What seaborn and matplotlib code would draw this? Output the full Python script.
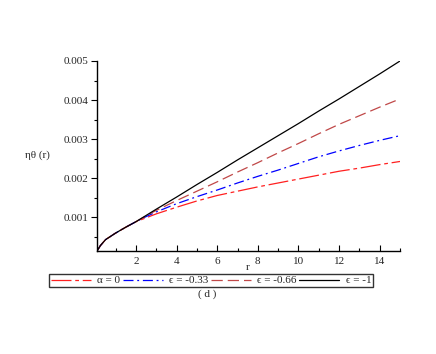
import matplotlib
matplotlib.use("Agg")
import matplotlib.pyplot as plt
import seaborn as sns
import numpy as np
import pandas as pd
from matplotlib.ticker import MultipleLocator

sns.set_style("white")
plt.rcParams['font.family'] = ['Liberation Serif', 'DejaVu Serif']

r = [0.08, 0.25, 0.5, 1.0, 1.5, 2.0, 2.5, 3.0, 4.0, 5.0, 6.0, 7.0, 8.0, 9.0, 10.0, 11.0, 12.0, 13.0, 14.0, 15.0]
alpha0 = [0.00014, 0.00028, 0.00043, 0.00060, 0.00075, 0.00089, 0.00099, 0.00109, 0.00126, 0.00142, 0.00156, 0.00167, 0.00178, 0.00188, 0.00198, 0.00208, 0.00218, 0.00226, 0.00235, 0.00243]
eps033 = [0.00014, 0.00028, 0.00043, 0.00060, 0.00075, 0.00089, 0.00102, 0.00114, 0.00135, 0.00153, 0.00170, 0.00188, 0.00205, 0.00221, 0.00238, 0.00255, 0.00270, 0.00284, 0.00297, 0.00309]
eps066 = [0.00014, 0.00028, 0.00043, 0.00060, 0.00075, 0.00089, 0.00104, 0.00118, 0.00143, 0.00167, 0.00191, 0.00216, 0.00240, 0.00265, 0.00289, 0.00314, 0.00338, 0.00360, 0.00382, 0.00403]
eps1 = [0.00014, 0.00028, 0.00043, 0.00060, 0.00075, 0.00089, 0.00105, 0.00121, 0.00152, 0.00184, 0.00215, 0.00247, 0.00278, 0.00309, 0.00340, 0.00372, 0.00403, 0.00435, 0.00467, 0.00500]

labels = ["α = 0", "ϵ = -0.33", "ϵ = -0.66", "ϵ = -1"]
series = [alpha0, eps033, eps066, eps1]
colors = ["#ff2020", "#0000ff", "#c04848", "#000000"]
dashes = [(16, 3, 3, 3), (8, 3, 1.5, 3), (9, 4), None]

fig = plt.figure(figsize=(4.36, 3.54), dpi=100)
ax = fig.add_axes([97/436, 1-251/354, (400-97)/436, (251-61)/354])

for lab, vals, c, d in zip(labels, series, colors, dashes):
    df = pd.DataFrame({"r": r, "v": vals})
    sns.lineplot(data=df, x="r", y="v", ax=ax, color=c, lw=0.9, label=lab, sort=False)
    if d is not None:
        ax.lines[-1].set_dashes(d)

ax.set_xlim(0.08, 15)
ax.set_ylim(0.00014, 0.005)
ax.xaxis.set_minor_locator(MultipleLocator(1))
ax.yaxis.set_minor_locator(MultipleLocator(0.0005))
ax.set_xticks([2, 4, 6, 8, 10, 12, 14])
ax.set_yticks([0.001, 0.002, 0.003, 0.004, 0.005])
ax.set_yticklabels(["0.001", "0.002", "0.003", "0.004", "0.005"])
ax.tick_params(axis='x', which='major', direction='in', length=4, width=0.8, labelsize=8, pad=4)
ax.tick_params(axis='x', which='minor', direction='in', length=2, width=0.8)
ax.tick_params(axis='y', which='major', direction='out', length=4, width=0.8, labelsize=8, pad=2)
ax.tick_params(axis='y', which='minor', direction='out', length=2, width=0.8)
ax.tick_params(which='both', bottom=True, left=True, color='black')
for s in ['top', 'right']:
    ax.spines[s].set_visible(False)
for s in ['left', 'bottom']:
    ax.spines[s].set_color('black')
    ax.spines[s].set_linewidth(1.0)

ax.set_xlabel("")
ax.set_ylabel("")
fig.text(248/436, 1-268/354, "r", fontsize=8, ha='center', va='center')
fig.text(37/436, 1-155/354, "ηθ (r)", fontsize=8, ha='center', va='center')
fig.text(207/436, 1-294/354, "( d )", fontsize=8, ha='center', va='center')

ax.get_legend().remove()
handles = ax.lines[:4]
leg = fig.legend(handles, labels, loc='center', bbox_to_anchor=(211/436, 1-280.5/354),
                 ncol=4, fontsize=8, frameon=True, fancybox=False, handlelength=3.6,
                 handletextpad=0.6, columnspacing=0.2, borderpad=0.15, borderaxespad=0)
leg.get_frame().set_edgecolor('black')
leg.get_frame().set_linewidth(1.0)

fig.savefig("out.png", dpi=100)
